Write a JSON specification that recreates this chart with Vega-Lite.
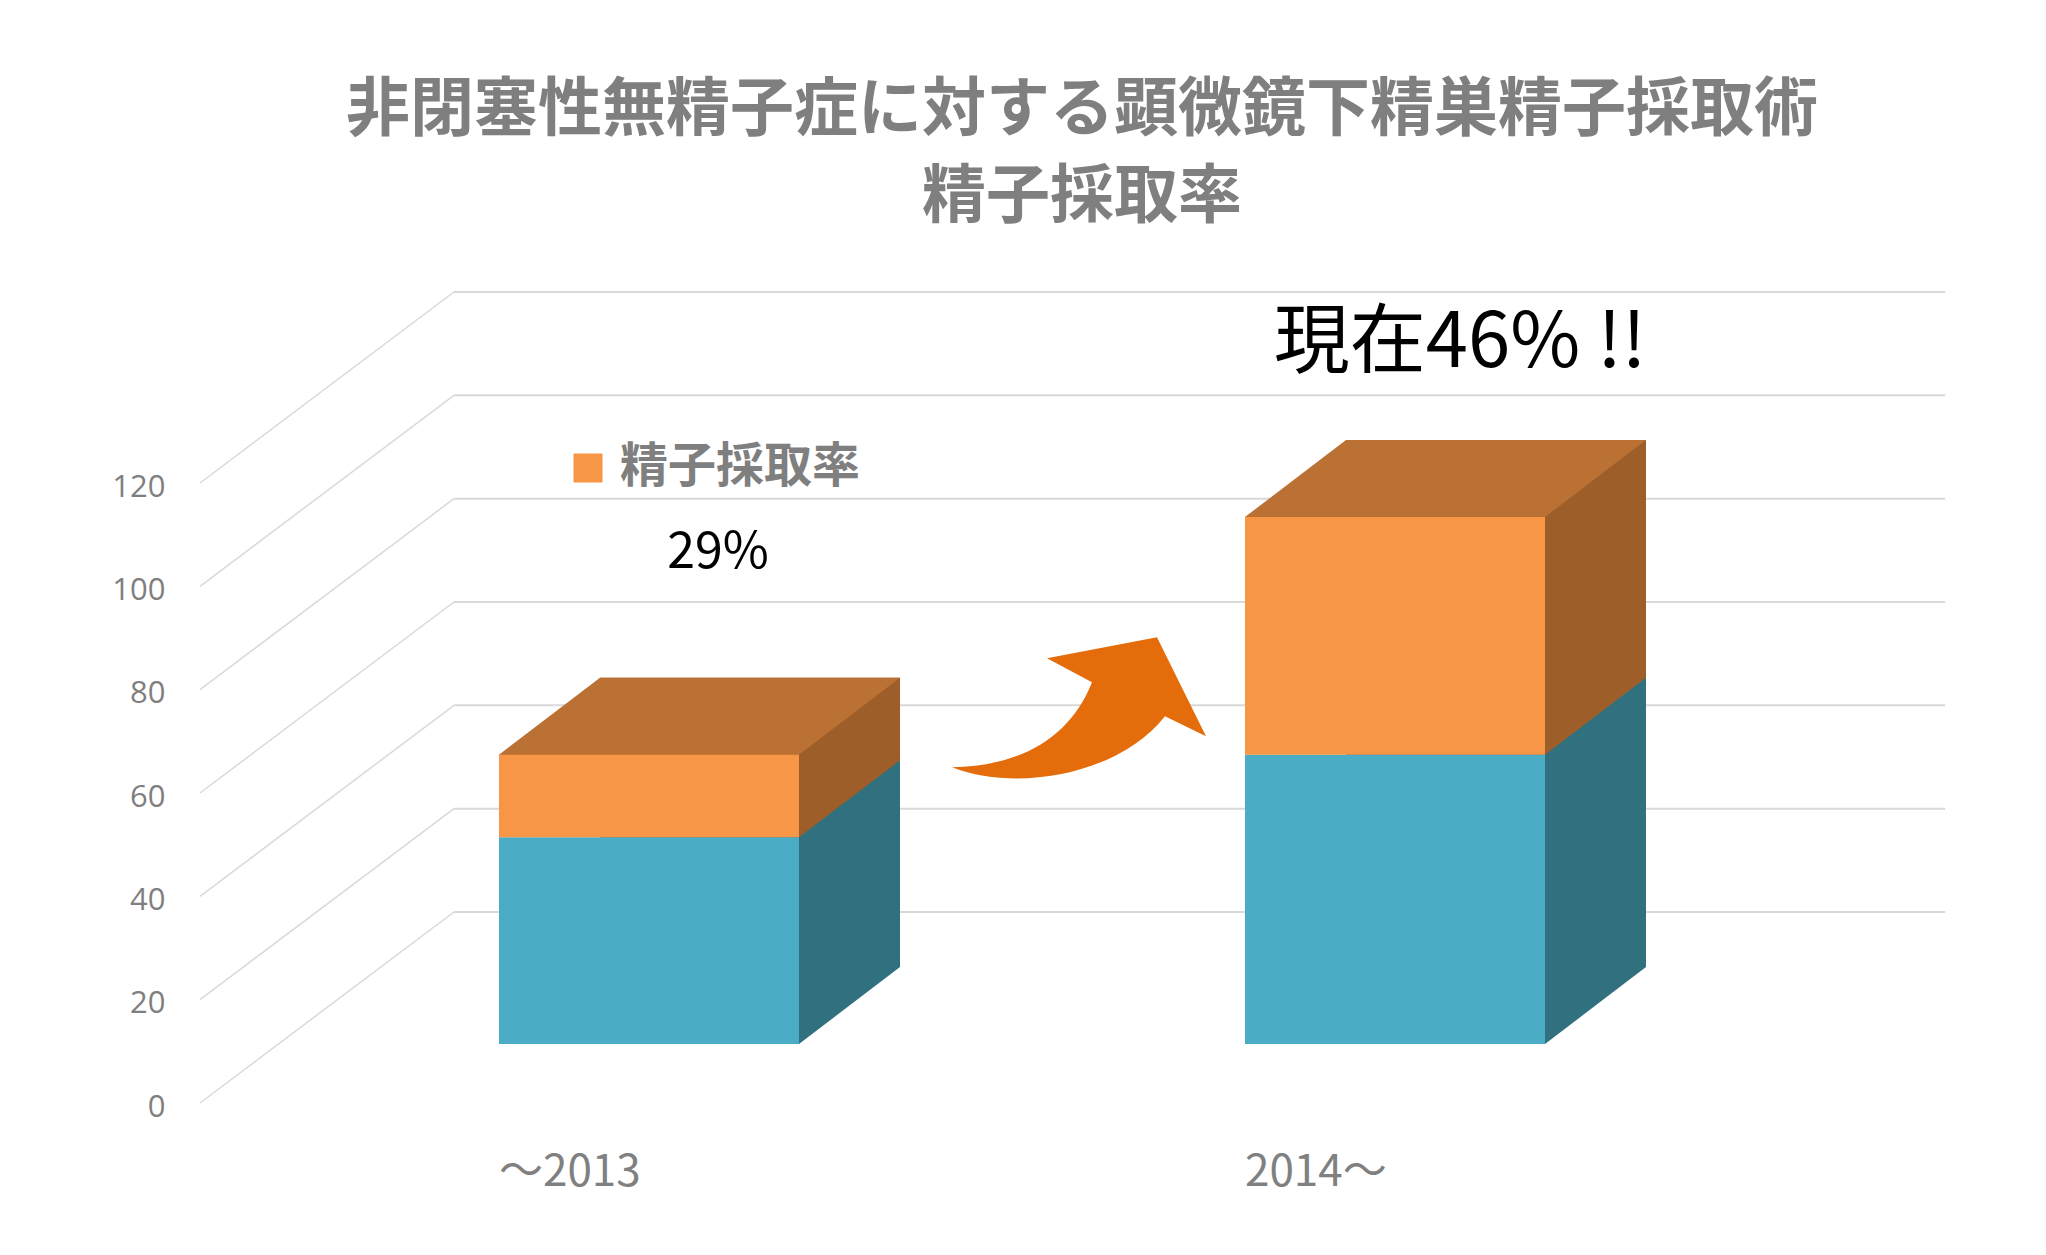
{
  "$schema": "https://vega.github.io/schema/vega-lite/v6.json",
  "width": 1754,
  "height": 620,
  "autosize": {"type": "none"},
  "padding": {"left": 200, "top": 424, "right": 92, "bottom": 211},
  "background": "white",
  "title": {
    "text": ["非閉塞性無精子症に対する顕微鏡下精巣精子採取術", "精子採取率"],
    "font": "Noto Sans CJK JP",
    "fontSize": 64,
    "fontWeight": "bold",
    "color": "#7F7F7F",
    "lineHeight": 87,
    "anchor": "middle",
    "frame": "group",
    "dx": 5,
    "offset": 61
  },
  "datasets": {
    "grid": [{"v": 0}, {"v": 20}, {"v": 40}, {"v": 60}, {"v": 80}, {"v": 100}, {"v": 120}],
    "counts": [
      {"period": "～2013", "group": "非採取", "value": 40, "label": ""},
      {"period": "～2013", "group": "精子採取率", "value": 16, "label": "29%"},
      {"period": "2014～", "group": "非採取", "value": 56, "label": ""},
      {"period": "2014～", "group": "精子採取率", "value": 46, "label": "現在46% !!"}
    ]
  },
  "resolve": {"scale": {"x": "independent"}},
  "layer": [
    {
      "data": {"name": "grid"},
      "layer": [
        {
          "mark": {"type": "rule", "color": "#D9D9D9", "strokeWidth": 1.5, "yOffset": 59, "y2Offset": -132},
          "encoding": {
            "x": {"datum": 0, "type": "quantitative", "scale": {"domain": [0, 1], "nice": false, "zero": false}, "axis": null},
            "x2": {"datum": 0.1448},
            "y": {
              "field": "v", "type": "quantitative", "title": null,
              "scale": {"domain": [0, 120], "nice": false},
              "axis": {"values": [0, 20, 40, 60, 80, 100, 120]}
            },
            "y2": {"field": "v"}
          }
        },
        {
          "mark": {"type": "rule", "color": "#D9D9D9", "strokeWidth": 2, "yOffset": -132, "y2Offset": -132},
          "encoding": {
            "x": {"datum": 0.1448, "type": "quantitative"},
            "x2": {"datum": 0.995},
            "y": {"field": "v", "type": "quantitative", "title": null, "scale": {"domain": [0, 120], "nice": false}},
            "y2": {"field": "v"}
          }
        },
        {
          "data": {"values": [{"note": "増加"}]},
          "mark": {
            "type": "point", "filled": true, "opacity": 1, "size": 4, "strokeWidth": 0, "color": "#E46C0A",
            "shape": "M-128 59 C-60 58 -10 30 12 -26 L-33 -50 L77 -71 L126 28 L85 8 C40 65 -60 85 -128 59 Z"
          },
          "encoding": {
            "x": {"datum": 0.5017, "type": "quantitative"},
            "y": {"datum": 65, "type": "quantitative", "title": null}
          }
        }
      ]
    },
    {
      "data": {"name": "counts"},
      "transform": [
        {"stack": "value", "groupby": ["period"], "sort": [{"field": "group", "order": "descending"}], "as": ["v0", "v1"]}
      ],
      "encoding": {
        "x": {
          "field": "period", "type": "nominal", "sort": ["～2013", "2014～"],
          "scale": {"paddingInner": 0.597855, "paddingOuter": 0.474531, "align": 0.42232},
          "axis": {
            "orient": "bottom", "title": null, "domain": false, "ticks": false, "labelAngle": 0,
            "labelAlign": "left", "labelOffset": -150, "labelPadding": 128, "labelBaseline": "middle",
            "labelFont": "Noto Sans CJK JP", "labelFontSize": 44, "labelColor": "#808080"
          }
        }
      },
      "layer": [
        {
          "transform": [{"filter": "datum.group === '非採取'"}],
          "mark": {"type": "bar", "color": "#31707F", "xOffset": 101, "yOffset": -77, "y2Offset": -77},
          "encoding": {
            "y": {"field": "v1", "type": "quantitative", "title": null, "scale": {"domain": [0, 120], "nice": false}},
            "y2": {"field": "v0"}
          }
        },
        {
          "transform": [{"filter": "datum.group === '精子採取率'"}],
          "mark": {"type": "bar", "color": "#9D5E2A", "xOffset": 101, "yOffset": -77, "y2Offset": -77},
          "encoding": {
            "y": {"field": "v1", "type": "quantitative", "title": null, "scale": {"domain": [0, 120], "nice": false}},
            "y2": {"field": "v0"}
          }
        },
        {
          "transform": [{"filter": "datum.group === '非採取'"}],
          "mark": {"type": "point", "filled": true, "opacity": 1, "size": 4, "strokeWidth": 0, "color": "#31707F",
                   "shape": "M150 0 L150 -79 L251 -79 L251 -77 Z"},
          "encoding": {
            "y": {"field": "v0", "type": "quantitative", "title": null, "scale": {"domain": [0, 120], "nice": false}}
          }
        },
        {
          "transform": [{"filter": "datum.group === '精子採取率'"}],
          "mark": {"type": "point", "filled": true, "opacity": 1, "size": 4, "strokeWidth": 0, "color": "#9D5E2A",
                   "shape": "M150 0 L150 -79 L251 -79 L251 -77 Z"},
          "encoding": {
            "y": {"field": "v0", "type": "quantitative", "title": null, "scale": {"domain": [0, 120], "nice": false}}
          }
        },
        {
          "transform": [{"filter": "datum.group === '精子採取率'"}],
          "mark": {"type": "point", "filled": true, "opacity": 1, "size": 4, "strokeWidth": 0, "color": "#BA7133",
                   "shape": "M-150 2 L150 2 L150 0 L251 -77 L-49 -77 L-150 0 Z"},
          "encoding": {
            "y": {"field": "v1", "type": "quantitative", "title": null, "scale": {"domain": [0, 120], "nice": false}}
          }
        },
        {
          "mark": {"type": "bar"},
          "encoding": {
            "y": {"field": "v1", "type": "quantitative", "title": null, "scale": {"domain": [0, 120], "nice": false}},
            "y2": {"field": "v0"},
            "color": {
              "field": "group", "type": "nominal",
              "scale": {"domain": ["精子採取率", "非採取"], "range": ["#F79646", "#4BACC6"]},
              "legend": {
                "values": ["精子採取率"], "title": null, "orient": "none",
                "legendX": 364, "legendY": 20, "padding": 0,
                "symbolType": "square", "symbolSize": 841, "symbolStrokeWidth": 0, "symbolOpacity": 1,
                "labelFont": "Noto Sans CJK JP", "labelFontSize": 48, "labelFontWeight": "bold",
                "labelColor": "#7F7F7F", "labelOffset": 8, "labelLimit": 0
              }
            }
          }
        },
        {
          "transform": [{"filter": "datum.period === '～2013' && datum.group === '精子採取率'"}],
          "mark": {"type": "text", "font": "Noto Sans CJK JP", "fontSize": 50, "color": "#000000", "dx": 69, "align": "center", "baseline": "middle"},
          "encoding": {
            "y": {"datum": 95, "type": "quantitative", "title": null},
            "text": {"field": "label"}
          }
        },
        {
          "transform": [{"filter": "datum.period === '2014～' && datum.group === '精子採取率'"}],
          "mark": {"type": "text", "font": "Noto Sans CJK JP", "fontSize": 76, "color": "#000000", "dx": 65, "align": "center", "baseline": "middle"},
          "encoding": {
            "y": {"datum": 135.5, "type": "quantitative", "title": null},
            "text": {"field": "label"}
          }
        }
      ]
    }
  ],
  "config": {
    "view": {"stroke": null},
    "axisY": {
      "title": null, "grid": false, "domain": false, "ticks": false,
      "labelOffset": 63, "labelPadding": 35, "labelBaseline": "middle",
      "labelFont": "Open Sans", "labelFontSize": 31, "labelColor": "#7F7F7F"
    }
  }
}
